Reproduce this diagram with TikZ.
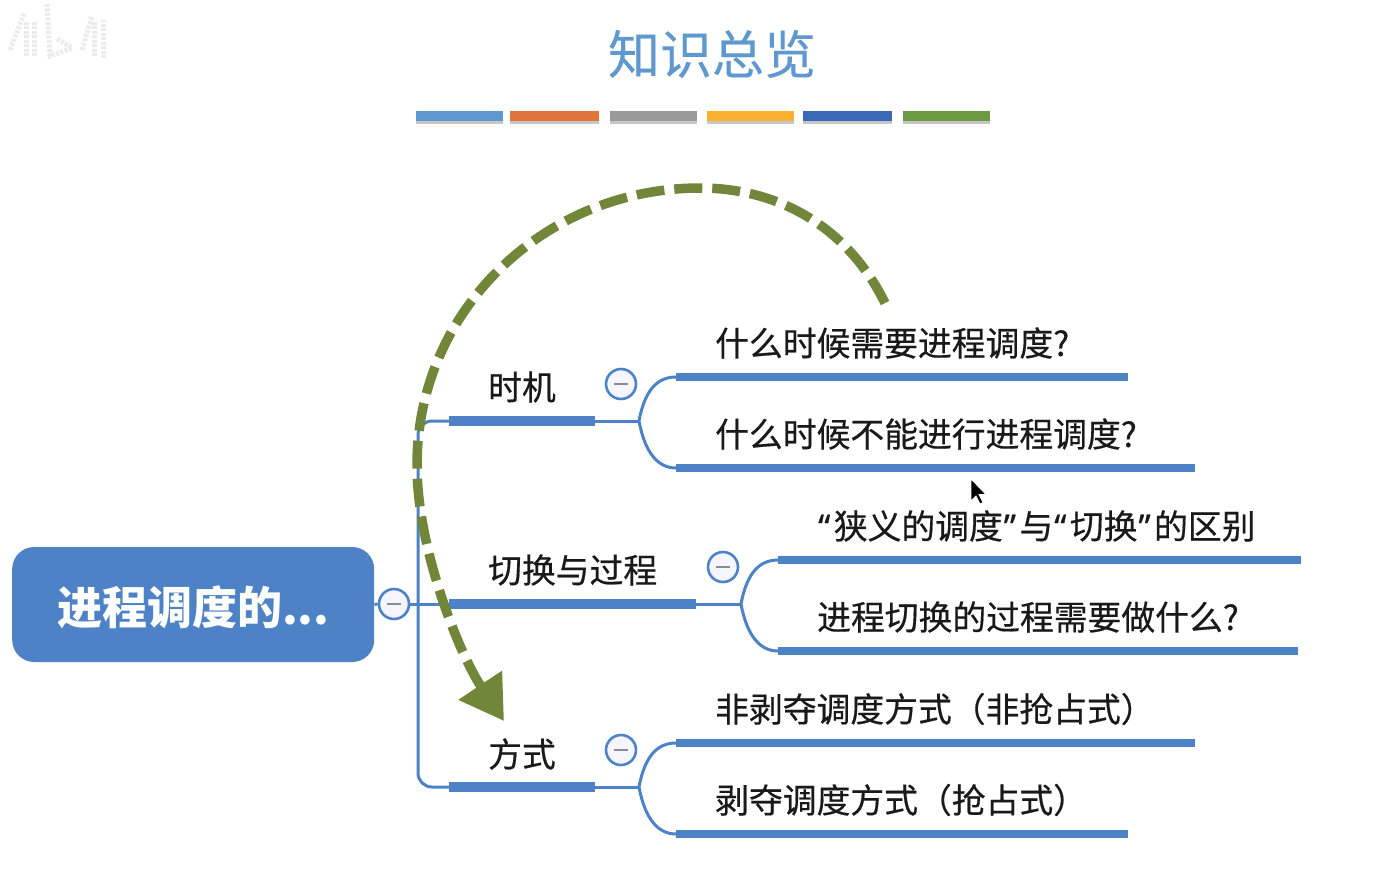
\documentclass[tikz,border=0pt]{standalone}
\usepackage{fontspec}
\setmainfont{Noto Sans CJK SC}
\newfontfamily\latinfont[FakeBold=0.5]{Noto Sans}
\newfontfamily\lblfont[FakeBold=0.5]{Noto Sans CJK SC}
\newfontfamily\ttlfont[FakeBold=0.3]{Noto Sans CJK SC}
\usepackage{xcolor}
\usetikzlibrary{arrows.meta,shadows}
\definecolor{mapblue}{HTML}{4D83C6}
\definecolor{titleblue}{HTML}{5F97CF}
\definecolor{arcgreen}{HTML}{72863A}
\newcommand{\qt}[1]{{\latinfont\hspace{1pt}#1\hspace{3.5pt}}}
\newcommand{\mnsign}{\rule{14pt}{2.6pt}}
\begin{document}
\begin{tikzpicture}[
    x=1pt, y=-1pt,
    root/.style={rounded corners=22pt, fill=mapblue, text=white, anchor=west,
                 minimum width=362pt, minimum height=115pt,
                 font=\fontsize{45}{45}\selectfont\bfseries},
    ttl/.style ={font=\ttlfont\fontsize{52}{52}\selectfont, text=titleblue},
    tbar/.style={minimum width=87pt, minimum height=10pt, inner sep=0pt,
                 drop shadow={shadow xshift=0pt, shadow yshift=-3pt, opacity=0.45}},
    lbl/.style ={font=\lblfont\fontsize{33.8}{33.8}\selectfont, text=black!90, anchor=west, inner sep=0pt},
    mns/.style ={circle, draw=mapblue, line width=2.6pt, fill=blue!4, text=black!45,
                 minimum size=30pt, inner sep=0pt},
    thn/.style ={draw=mapblue, line width=3pt},
    thk/.style ={draw=mapblue, line width=9.5pt},
    lfb/.style ={draw=mapblue, line width=8.5pt},
    swp/.style ={draw=arcgreen, line width=9.5pt, dash pattern=on 28pt off 10pt,
                 -{Triangle[length=43pt,width=50pt,fill=arcgreen]}},
    wmk/.style ={draw=black!8, line width=5pt, dash pattern=on 3pt off 1.5pt},
  ]
  \useasboundingbox (0,0) rectangle (1395,884);
  % watermark
  \draw[wmk] (10,50) -- (24,14); \draw[wmk] (26,56) -- (26,20); \draw[wmk] (34,56) -- (34,22);
  \draw[wmk] (47,4) -- (50,56) -- (72,48) -- (56,38); \draw[wmk] (82,50) -- (92,16);
  \draw[wmk] (94,56) -- (94,20); \draw[wmk] (103,58) -- (103,20);
  % title
  \node[ttl] (title) at (712,54) {知识总览};
  \node[tbar, fill=titleblue] (c1) at (459,116) {};
  \node[tbar, fill={rgb,255:red,224;green,116;blue,58}, minimum width=89pt] (c2) at (554,116) {};
  \node[tbar, fill=black!40] (c3) at (653,116) {};
  \node[tbar, fill={rgb,255:red,251;green,176;blue,48}] (c4) at (750,116) {};
  \node[tbar, fill={rgb,255:red,59;green,104;blue,181}, minimum width=89pt] (c5) at (847,116) {};
  \node[tbar, fill={rgb,255:red,107;green,154;blue,67}] (c6) at (946,116) {};
  % central topic
  \node[root] (top) at (12,604.5) {\rule{0pt}{44pt}进程调度的...};
  \node[mns] (mt) at (394,604) {\mnsign};
  \coordinate (jt) at (418,421);
  \coordinate (jb) at (418,787);
  \coordinate (jm) at (418,604);
  % first level
  \coordinate (b1s) at (449,421); \coordinate (b1e) at (595,421); \coordinate (b1f) at (639,421);
  \coordinate (b2s) at (449,604); \coordinate (b2e) at (696,604); \coordinate (b2f) at (741,604);
  \coordinate (b3s) at (449,787); \coordinate (b3e) at (595,787); \coordinate (b3f) at (639,787);
  \node[lbl] (b1) at (488,387) {时机};
  \node[lbl] (b2) at (488,570) {切换与过程};
  \node[lbl] (b3) at (488,754) {方式};
  \node[mns] (m1) at (621,384) {\mnsign};
  \node[mns] (m2) at (723,567) {\mnsign};
  \node[mns] (m3) at (621,750) {\mnsign};
  % second level
  \coordinate (a1s) at (676,377); \coordinate (a1e) at (1128,377);
  \coordinate (a2s) at (676,468); \coordinate (a2e) at (1195,468);
  \coordinate (a3s) at (778,560); \coordinate (a3e) at (1301,560);
  \coordinate (a4s) at (778,651); \coordinate (a4e) at (1298,651);
  \coordinate (a5s) at (676,743); \coordinate (a5e) at (1195,743);
  \coordinate (a6s) at (676,834); \coordinate (a6e) at (1128,834);
  \node[lbl] (a1) at (715,343) {什么时候需要进程调度?};
  \node[lbl] (a2) at (715,434) {什么时候不能进行进程调度?};
  \node[lbl] (a3) at (817,526) {\qt{“}狭义的调度\qt{”}与\qt{“}切换\qt{”}的区别};
  \node[lbl] (a4) at (817,617) {进程切换的过程需要做什么?};
  \node[lbl] (a5) at (715,709) {非剥夺调度方式（非抢占式）};
  \node[lbl] (a6) at (715,800) {剥夺调度方式（抢占式）};
  % connectors
  \draw[thn] (top.east) -- (mt.west);
  \draw[thn] (mt.east) -- (b2s);
  \draw[thn, rounded corners=14pt] (b1s) -- (jt) -- (jb) -- (b3s);
  \draw[thk] (b1s) -- (b1e);
  \draw[thk] (b2s) -- (b2e);
  \draw[thk] (b3s) -- (b3e);
  \draw[thn] (b1e) -- (b1f);
  \draw[thn] (b2e) -- (b2f);
  \draw[thn] (b3e) -- (b3f);
  \draw[thn] (b1f) .. controls +(6,-32) and +(-18,0) .. (a1s);
  \draw[thn] (b1f) .. controls +(6,32) and +(-18,0) .. (a2s);
  \draw[thn] (b2f) .. controls +(6,-32) and +(-18,0) .. (a3s);
  \draw[thn] (b2f) .. controls +(6,32) and +(-18,0) .. (a4s);
  \draw[thn] (b3f) .. controls +(6,-32) and +(-18,0) .. (a5s);
  \draw[thn] (b3f) .. controls +(6,32) and +(-18,0) .. (a6s);
  \draw[lfb] (a1s) -- (a1e);
  \draw[lfb] (a2s) -- (a2e);
  \draw[lfb] (a3s) -- (a3e);
  \draw[lfb] (a4s) -- (a4e);
  \draw[lfb] (a5s) -- (a5e);
  \draw[lfb] (a6s) -- (a6e);
  % dashed sweep
  \coordinate (ss) at (885,303);
  \coordinate (sp) at (700,188);
  \coordinate (sl) at (417,465);
  \coordinate (se) at (504,721);
  \draw[swp] (ss) .. controls (848,228) and (780,188) .. (sp)
     .. controls (545,188) and (417,310) .. (sl)
     .. controls (417,550) and (460,655) .. (se);
  % pointer
  \node[inner sep=0pt] (cur) at (971,479) {};
  \fill[black, draw=white, line width=0.8pt] (cur.center) -- ++(0,22) -- ++(5,-5) -- ++(4,8) -- ++(3,-1.5)
     -- ++(-4,-8) -- ++(7,0) -- cycle;
\end{tikzpicture}
\end{document}
